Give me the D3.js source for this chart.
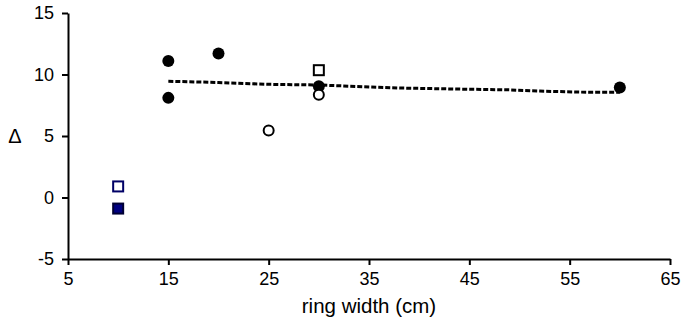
<!DOCTYPE html>
<html>
<head>
<meta charset="utf-8">
<script src="https://cdn.jsdelivr.net/npm/d3@7"></script>
<style>
  body { margin: 0; background: #fff; }
  text { font-family: "Liberation Sans", Arial, sans-serif; }
</style>
</head>
<body>
<svg id="chart"></svg>
<script>
// data
var filledCircles = [[15, 11.1], [15, 8.1], [20, 11.7], [30, 9.05], [60, 8.95]];
var openCircles = [[25, 5.45], [30, 8.35]];
var openSquares = [[30, 10.35]];
var navyOpenSquares = [[10, 0.9]];
var navyFilledSquares = [[10, -0.9]];
var trendX = [15, 20, 25, 30, 33, 38, 45, 49, 52, 57, 60];
var trendY = [9.45, 9.35, 9.2, 9.15, 9.05, 8.9, 8.8, 8.75, 8.65, 8.55, 8.55];
var xTicks = [5, 15, 25, 35, 45, 55, 65];
var yTicks = [-5, 0, 5, 10, 15];

var width = 681, height = 324;
var margin = { top: 13, right: 11, bottom: 65, left: 68 };

var svg = d3.select('#chart')
            .attr('width', width)
            .attr('height', height);

var x = d3.scaleLinear().domain([5, 65]).range([margin.left, width - margin.right]);
var y = d3.scaleLinear().domain([-5, 15]).range([height - margin.bottom, margin.top]);

// axes (plain hyphen for negatives, like the original)
svg.append('g')
    .attr('transform', 'translate(0,' + y(-5) + ')')
    .call(d3.axisBottom(x).tickValues(xTicks).tickFormat(d => String(d))
            .tickSize(6).tickPadding(7).tickSizeOuter(0))
    .call(g => g.selectAll('text').attr('font-size', 18).attr('fill', '#000'))
    .call(g => g.selectAll('line, path').attr('stroke', '#000').attr('stroke-width', 2));

svg.append('g')
    .attr('transform', 'translate(' + x(5) + ',0)')
    .call(d3.axisLeft(y).tickValues(yTicks).tickFormat(d => String(d))
            .tickSize(6).tickPadding(8).tickSizeOuter(0))
    .call(g => g.selectAll('text').attr('font-size', 18).attr('fill', '#000'))
    .call(g => g.selectAll('line, path').attr('stroke', '#000').attr('stroke-width', 2));

svg.append('text')
    .attr('x', (x(5) + x(65)) / 2)
    .attr('y', 313)
    .attr('font-size', 20.5)
    .style('text-anchor', 'middle')
    .text('ring width (cm)');

svg.append('text')
    .attr('x', 15)
    .attr('y', y(5) + 7)
    .attr('font-size', 20)
    .style('text-anchor', 'middle')
    .text('Δ');

// trend line
var line = d3.line()
             .x(d => x(d[0]))
             .y(d => y(d[1]));

svg.append('path')
    .datum(d3.zip(trendX, trendY))
    .attr('d', line)
    .attr('fill', 'none')
    .attr('stroke', '#000')
    .attr('stroke-width', 3)
    .attr('stroke-dasharray', '5,2');

// markers
svg.selectAll('.fc')
    .data(filledCircles)
    .enter()
    .append('circle')
    .attr('cx', d => x(d[0]))
    .attr('cy', d => y(d[1]))
    .attr('r', 6)
    .attr('fill', '#000');

svg.selectAll('.oc')
    .data(openCircles)
    .enter()
    .append('circle')
    .attr('cx', d => x(d[0]))
    .attr('cy', d => y(d[1]))
    .attr('r', 5)
    .attr('fill', '#fff')
    .attr('stroke', '#000')
    .attr('stroke-width', 2);

function squares(data, fill, stroke) {
  svg.selectAll(null)
      .data(data)
      .enter()
      .append('rect')
      .attr('x', d => x(d[0]) - 5)
      .attr('y', d => y(d[1]) - 5)
      .attr('width', 10)
      .attr('height', 10)
      .attr('fill', fill)
      .attr('stroke', stroke)
      .attr('stroke-width', 2);
}

squares(openSquares, '#fff', '#000');
squares(navyOpenSquares, '#fff', '#000066');
squares(navyFilledSquares, '#000080', '#000033');
</script>
</body>
</html>
